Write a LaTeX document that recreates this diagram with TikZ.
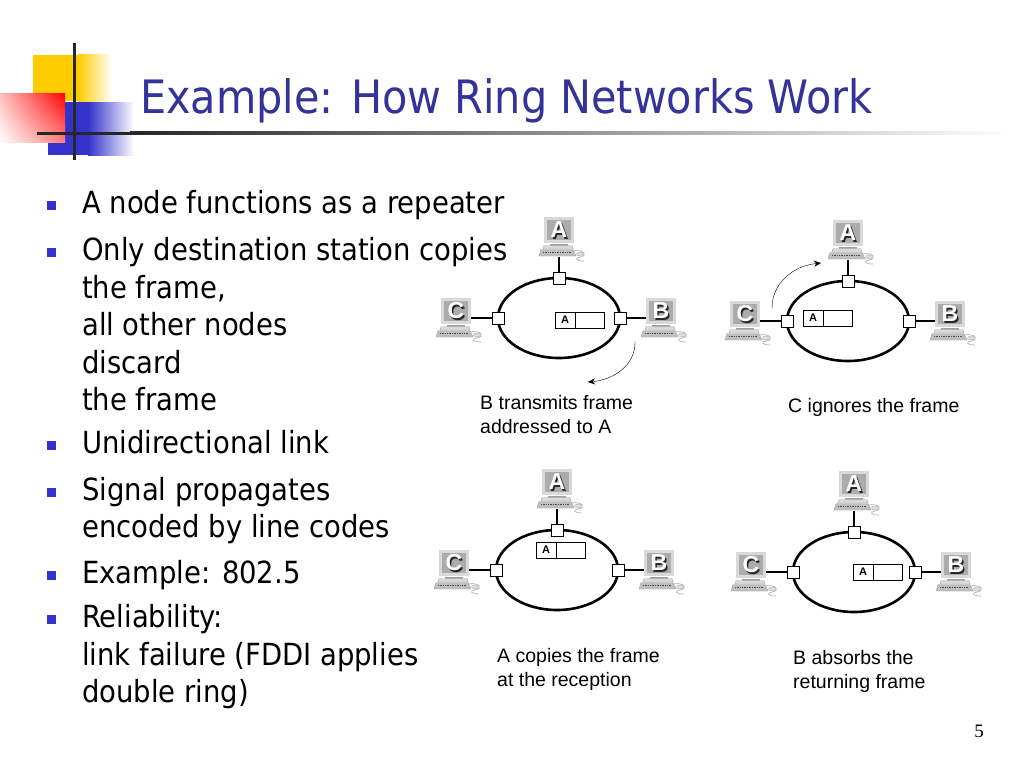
\documentclass[tikz,border=0pt]{standalone}
\usepackage{fontspec}
\setmainfont{DejaVu Sans Condensed}
\newfontfamily\capfont{Liberation Sans}
\newfontfamily\numfont{Liberation Serif}
\usetikzlibrary{shapes.geometric,positioning,arrows.meta,shadings}
\definecolor{titleblue}{RGB}{51,51,153}
\definecolor{bulletblue}{RGB}{51,51,204}
\definecolor{logoyellow}{RGB}{255,204,0}
\definecolor{logored}{RGB}{255,0,0}
\definecolor{logoblue}{RGB}{51,51,204}

\tikzset{
  body/.style={anchor=base west, inner sep=0, font=\fontsize{30.5}{37.5}\selectfont},
  ring/.style={ellipse, draw, line width=2.6pt, minimum width=122pt, minimum height=80pt, inner sep=0, outer sep=0},
  port/.style={rectangle, draw, fill=white, line width=0.9pt, minimum size=12pt, inner sep=0},
  link/.style={line width=2.6pt},
  fpart/.style={rectangle, draw, line width=0.8pt, minimum height=16pt, inner sep=0, font=\capfont\bfseries\fontsize{11}{11}\selectfont},
  caption/.style={anchor=base west, align=left, inner sep=0, font=\capfont\fontsize{19.5}{24}\selectfont},
  monitor/.style={rectangle, minimum width=27pt, minimum height=23pt, inner sep=0, fill=gray!65, draw=gray!70, double=gray!30, double distance=2.4pt, line width=0.6pt},
  pcletter/.style={inner sep=0, font=\capfont\bfseries\fontsize{23}{23}\selectfont},
  pc/.pic={
    \node[monitor] (-mon) at (0,0) {};
    \node[pcletter, text=gray!30!black] (-shd) at (1.3,1.3) {#1};
    \node[pcletter, text=white] (-txt) at (0,0) {#1};
    \fill[gray!75] (-9,13.5) rectangle (9,15.5);
    \filldraw[fill=gray!30, draw=gray!65] (-15,15.5) -- (13,15.5) -- (14,19) -- (-16,19) -- cycle;
    \filldraw[fill=gray!50, draw=gray!70] (-18,19.5) -- (14,19.5) -- (17,26) -- (-20,26) -- cycle;
    \draw[black!70, line width=1.4pt, dash pattern=on 1pt off 0.7pt] (-16,22.7) -- (12,22.7);
    \draw[gray!60, line width=0.7pt] (14,21) .. controls (26,19) and (29,26) .. (21,27) .. controls (15,28) and (17,31) .. (25,31);
    \filldraw[fill=gray!25, draw=gray!65] (21,24) ellipse (3.5 and 2);
    \coordinate (-foot) at (0,27);
    \coordinate (-east) at (15,7);
    \coordinate (-west) at (-15,7);
  }
}

\begin{document}
\begin{tikzpicture}[x=1pt, y=-1pt, >={Stealth[length=7pt,width=6pt]}]
  \fill[white] (0,0) rectangle (1024,768);
  % logo
  \fill[logoyellow] (33,55) rectangle (78,101);
  \shade[left color=logoyellow, right color=white] (78,55) rectangle (112,101);
  \fill[logoblue] (48,102) rectangle (88,155);
  \shade[left color=logoblue, right color=white] (88,102) rectangle (134,155);
  \shade[upper left=logored!25, upper right=logored, lower right=logored!50, lower left=white] (0,93) rectangle (65,142);
  \fill[black!85] (72.5,43) rectangle (75.5,160);
  \fill[black!85] (37,131.5) rectangle (130,134.5);
  \shade[left color=black!85, right color=white] (130,131.5) rectangle (1010,134.5);
  \node[anchor=base west, inner sep=0, text=titleblue, font=\fontsize{46}{50}\selectfont] (title) at (140,113) {Example: How Ring Networks Work};

  % bullet list
  \fill[bulletblue] (46.5,200.5) rectangle (55.5,209.5);
  \fill[bulletblue] (46.5,247.5) rectangle (55.5,256.5);
  \fill[bulletblue] (46.5,440.5) rectangle (55.5,449.5);
  \fill[bulletblue] (46.5,487.5) rectangle (55.5,496.5);
  \fill[bulletblue] (46.5,570.5) rectangle (55.5,579.5);
  \fill[bulletblue] (46.5,614.5) rectangle (55.5,623.5);
  \node[body] (l1) at (82,213) {A node functions as a repeater};
  \node[body] (l2) at (82,260) {Only destination station copies};
  \node[body] (l3) at (82,298) {the frame,};
  \node[body] (l4) at (82,335) {all other nodes};
  \node[body] (l5) at (82,373) {discard};
  \node[body] (l6) at (82,410) {the frame};
  \node[body] (l7) at (82,453) {Unidirectional link};
  \node[body] (l8) at (82,500) {Signal propagates};
  \node[body] (l9) at (82,537) {encoded by line codes};
  \node[body] (l10) at (82,583) {Example: 802.5};
  \node[body] (l11) at (82,627) {Reliability:};
  \node[body] (l12) at (82,665) {link failure (FDDI applies};
  \node[body] (l13) at (82,702) {double ring)};

  % panel 1: B transmits
  \node[ring] (r1) at (559,318) {};
  \node[port] (p1a) at (r1.north) {};
  \node[port] (p1c) at (r1.west) {};
  \node[port] (p1b) at (r1.east) {};
  \pic (a1) at ([yshift=48pt]p1a) {pc=A};
  \pic (c1) at ([xshift=-42pt,yshift=7pt]p1c) {pc=C};
  \pic (b1) at ([xshift=41pt,yshift=7pt]p1b) {pc=B};
  \draw[link] (a1-foot) -- (p1a);
  \draw[link] (c1-east) -- (p1c);
  \draw[link] (b1-west) -- (p1b);
  \node[fpart, minimum width=20pt] (f1a) at (565,320) {A};
  \node[fpart, minimum width=29pt, right=-0.8pt of f1a] (f1b) {};
  \node[caption] (cap1) at (480,433) {B transmits frame\\addressed to A};
  \coordinate (t1) at (635,341);
  \coordinate (h1) at (588,382);
  \draw[->] (t1) .. controls (636,366) and (612,380) .. (h1);

  % panel 2: C ignores
  \node[ring] (r2) at (848,321) {};
  \node[port] (p2a) at (r2.north) {};
  \node[port] (p2c) at (r2.west) {};
  \node[port] (p2b) at (r2.east) {};
  \pic (a2) at ([yshift=48pt]p2a) {pc=A};
  \pic (c2) at ([xshift=-42pt,yshift=7pt]p2c) {pc=C};
  \pic (b2) at ([xshift=41pt,yshift=7pt]p2b) {pc=B};
  \draw[link] (a2-foot) -- (p2a);
  \draw[link] (c2-east) -- (p2c);
  \draw[link] (b2-west) -- (p2b);
  \node[fpart, minimum width=20pt] (f2a) at (813,318) {A};
  \node[fpart, minimum width=29pt, right=-0.8pt of f2a] (f2b) {};
  \node[caption] (cap2) at (788,412) {C ignores the frame};
  \coordinate (t2) at (772,308);
  \coordinate (h2) at (821,263);
  \draw[->] (t2) .. controls (772,284) and (792,266) .. (h2);

  % panel 3: A copies
  \node[ring] (r3) at (557,570) {};
  \node[port] (p3a) at (r3.north) {};
  \node[port] (p3c) at (r3.west) {};
  \node[port] (p3b) at (r3.east) {};
  \pic (a3) at ([yshift=48pt]p3a) {pc=A};
  \pic (c3) at ([xshift=-42pt,yshift=7pt]p3c) {pc=C};
  \pic (b3) at ([xshift=41pt,yshift=7pt]p3b) {pc=B};
  \draw[link] (a3-foot) -- (p3a);
  \draw[link] (c3-east) -- (p3c);
  \draw[link] (b3-west) -- (p3b);
  \node[fpart, minimum width=20pt] (f3a) at (546,550) {A};
  \node[fpart, minimum width=29pt, right=-0.8pt of f3a] (f3b) {};
  \node[caption] (cap3) at (497,686) {A copies the frame\\at the reception};

  % panel 4: B absorbs
  \node[ring] (r4) at (854,572) {};
  \node[port] (p4a) at (r4.north) {};
  \node[port] (p4c) at (r4.west) {};
  \node[port] (p4b) at (r4.east) {};
  \pic (a4) at ([yshift=48pt]p4a) {pc=A};
  \pic (c4) at ([xshift=-42pt,yshift=7pt]p4c) {pc=C};
  \pic (b4) at ([xshift=41pt,yshift=7pt]p4b) {pc=B};
  \draw[link] (a4-foot) -- (p4a);
  \draw[link] (c4-east) -- (p4c);
  \draw[link] (b4-west) -- (p4b);
  \node[fpart, minimum width=20pt] (f4a) at (863,572) {A};
  \node[fpart, minimum width=29pt, right=-0.8pt of f4a] (f4b) {};
  \node[caption] (cap4) at (793,688) {B absorbs the\\returning frame};

  \node[font=\numfont\fontsize{19}{19}\selectfont] (pg) at (979,731) {5};
\end{tikzpicture}
\end{document}
